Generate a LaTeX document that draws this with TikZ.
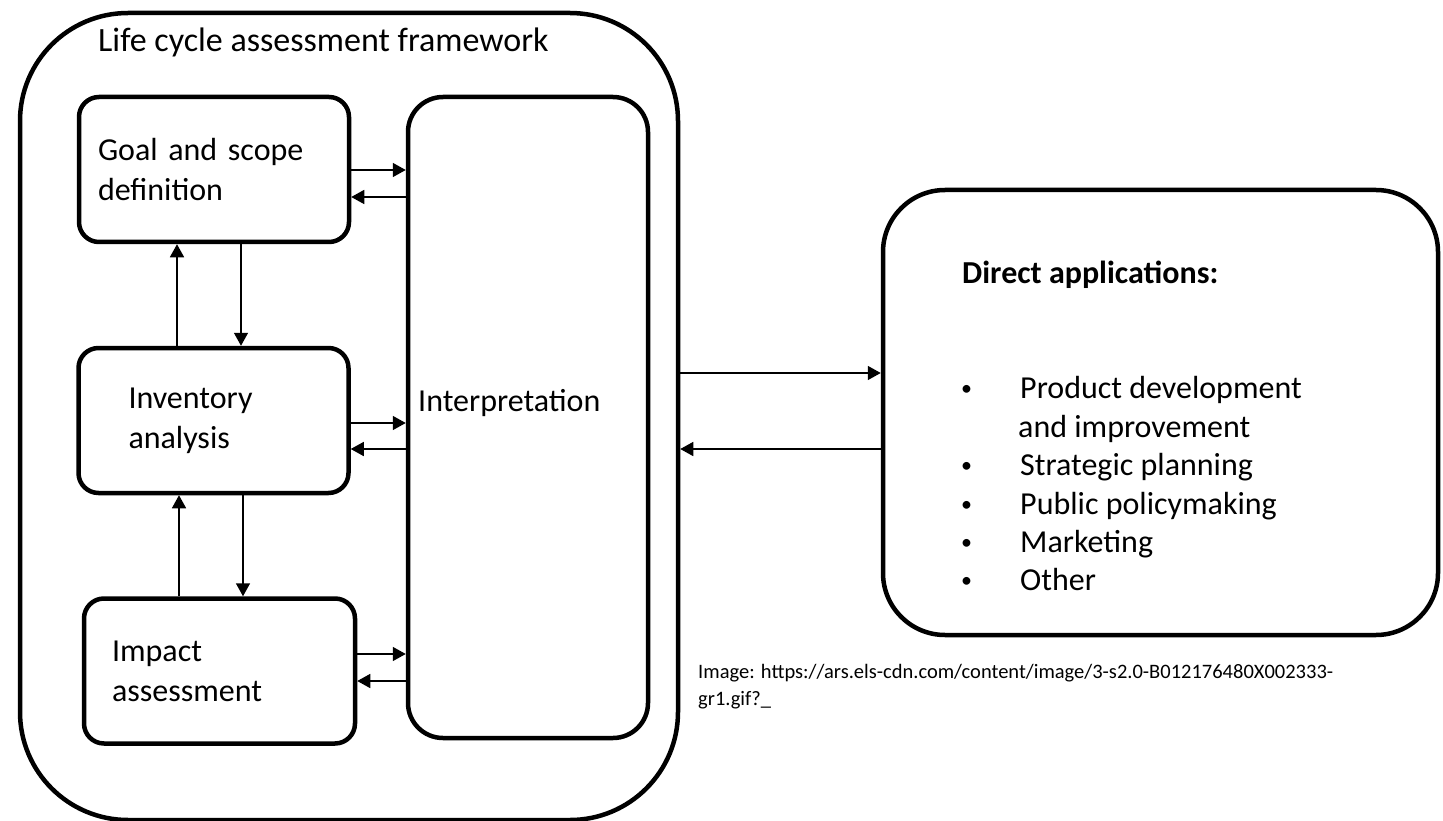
\documentclass[tikz,border=0pt]{standalone}
\usepackage{fontspec}
\setmainfont{Carlito}
\usepackage{tikz}
\usetikzlibrary{arrows.meta, positioning}
\newcommand{\boxfont}{\fontsize{32}{40}\selectfont}
\newcommand{\notefont}{\fontsize{20.5}{27}\selectfont}
\newcommand{\appbullet}{\makebox[63pt][l]{\hspace*{4pt}\raisebox{3pt}{\fontsize{22}{22}\selectfont\textbullet}}}
\tikzset{
  stage/.style={rectangle, draw, line width=4.5pt, rounded corners=20pt,
    align=left, font=\boxfont, minimum height=145pt},
  panel/.style={rectangle, draw, line width=4.5pt, inner sep=0pt},
  txt/.style={anchor=west, align=left, inner sep=0pt},
  link/.style={-{Triangle[length=13pt,width=14pt]}, line width=1.5pt}
}
\begin{document}
\begin{tikzpicture}[x=1pt, y=-1pt]
  \clip (0,0) rectangle (1443,821);
  % Outer framework
  \node[panel, rounded corners=108pt, minimum width=658pt, minimum height=807pt] (lca) at (349,416.5) {};
  \node[txt, font=\fontsize{34}{40}\selectfont] (title) at (98,42) {Life cycle assessment framework};
  % Stages
  \node[stage, text width=232pt, inner xsep=19pt] (goal) at (214,169.5) {Goal and scope\\definition};
  \node[stage, text width=170pt, inner xsep=50pt] (inventory) at (213.5,420.5) {Inventory\\analysis};
  \node[stage, text width=215pt, inner xsep=28pt] (impact) at (219.5,671) {Impact\\assessment};
  \node[panel, rounded corners=35pt, minimum width=240pt, minimum height=641pt] (interp) at (528,417.5) {};
  \node[txt, font=\boxfont] (interptext) at (418,403) {Interpretation};
  % Applications
  \node[panel, rounded corners=62pt, minimum width=555pt, minimum height=445pt] (apps) at (1160.5,412.5) {};
  \node[txt, font=\boxfont\bfseries] (appshead) at (962,275) {Direct applications:};
  \node[txt, font=\fontsize{32}{38.4}\selectfont] (appslist) at (957,484) {%
    \appbullet Product development\\
    \hspace*{61pt}and improvement\\
    \appbullet Strategic planning\\
    \appbullet Public policymaking\\
    \appbullet Marketing\\
    \appbullet Other};
  % Source note
  \node[txt, font=\notefont] (source) at (698,686.5) {Image: https://ars.els-cdn.com/content/image/3-s2.0-B012176480X002333-\\gr1.gif?\_};
  % Stage <-> interpretation
  \draw[link] (goal.east |- 0,170) -- (interp.west |- 0,170);
  \draw[link] (interp.west |- 0,197) -- (goal.east |- 0,197);
  \draw[link] (inventory.east |- 0,423) -- (interp.west |- 0,423);
  \draw[link] (interp.west |- 0,449) -- (inventory.east |- 0,449);
  \draw[link] (impact.east |- 0,654) -- (interp.west |- 0,654);
  \draw[link] (interp.west |- 0,681) -- (impact.east |- 0,681);
  % Stage <-> stage
  \draw[link] (inventory.north -| 177,0) -- (goal.south -| 177,0);
  \draw[link] (goal.south -| 241,0) -- (inventory.north -| 241,0);
  \draw[link] (impact.north -| 179,0) -- (inventory.south -| 179,0);
  \draw[link] (inventory.south -| 243,0) -- (impact.north -| 243,0);
  % Framework <-> applications
  \draw[link] (lca.east |- 0,373) -- (apps.west |- 0,373);
  \draw[link] (apps.west |- 0,449) -- (lca.east |- 0,449);
\end{tikzpicture}
\end{document}
